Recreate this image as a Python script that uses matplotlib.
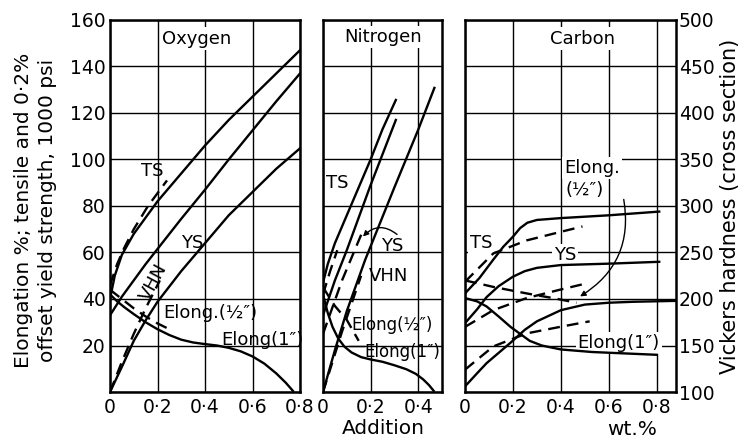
import matplotlib.pyplot as plt

plt.rcParams['font.family'] = ['DejaVu Sans']
plt.rcParams['font.size'] = 13

# Oxygen panel: x = wt.% addition, strength in 1000 psi, elongation in %, hardness in VHN
o_ts_x = [0, 0.02, 0.05, 0.1, 0.15, 0.2, 0.3, 0.4, 0.5, 0.6, 0.7, 0.8]
o_ts = [40, 50, 59, 68, 75, 82, 94, 106, 117, 127, 137, 147]
o_ts_d_x = [0, 0.03, 0.06, 0.1, 0.16, 0.24]
o_ts_d = [46, 55, 62, 70, 80, 91]
o_ys_x = [0, 0.05, 0.1, 0.15, 0.2, 0.3, 0.4, 0.5, 0.6, 0.7, 0.8]
o_ys = [33, 41, 48, 55, 61.5, 74.5, 87, 100, 112.5, 125, 137]
o_d_x = [0, 0.05, 0.1, 0.15, 0.21]
o_d = [0, 13, 25, 36, 48]
o_vhn_x = [0, 0.05, 0.1, 0.15, 0.2, 0.3, 0.4, 0.5, 0.6, 0.7, 0.8]
o_vhn = [100, 127, 155, 177, 197, 230, 260, 290, 315, 340, 362]
o_el1_x = [0, 0.03, 0.06, 0.1, 0.15, 0.2, 0.25, 0.3, 0.35, 0.4, 0.45,
           0.5, 0.55, 0.6, 0.65, 0.7, 0.74, 0.77]
o_el1 = [42, 39, 36.5, 33.5, 30, 27, 24.5, 22.5, 21.3, 20.6, 20,
         19, 17.5, 15.3, 12.2, 8, 4, 0.5]
o_elh_x = [0, 0.05, 0.1, 0.15, 0.2, 0.26]
o_elh = [44, 40, 36, 32.5, 29.5, 26.5]

# Nitrogen panel
n_ts_x = [0, 0.02, 0.05, 0.1, 0.15, 0.2, 0.25, 0.306]
n_ts = [47, 55, 64, 76, 88, 100, 113, 125.6]
n_ts_d_x = [0, 0.03, 0.06]
n_ts_d = [42, 52, 61]
n_ys_x = [0, 0.05, 0.1, 0.2, 0.306]
n_ys = [33, 48, 61, 89, 117]
n_ys_d_x = [0, 0.08, 0.17]
n_ys_d = [25, 48, 70]
n_vhn_x = [0, 0.05, 0.1, 0.177, 0.3, 0.4, 0.468]
n_vhn = [100, 145, 187, 242, 320, 382, 427]
n_vhn_d_x = [0, 0.08, 0.16]
n_vhn_d = [100, 165, 225]
n_el1_x = [0, 0.02, 0.04, 0.064, 0.09, 0.12, 0.16, 0.2, 0.25, 0.3,
           0.35, 0.39, 0.42, 0.445, 0.465]
n_el1 = [42, 34, 28, 23, 19.5, 17, 15, 14, 13, 11.5, 9.8, 7.8, 5.5, 3, 0.5]
n_elh_x = [0, 0.05, 0.1, 0.15]
n_elh = [45, 37, 31, 22]

# Carbon panel
c_ts_x = [0, 0.06, 0.117, 0.16, 0.2, 0.23, 0.26, 0.3, 0.4, 0.6, 0.81]
c_ts = [42.4, 49, 56.8, 62.5, 66.8, 70.5, 72.8, 74, 74.8, 76, 77.6]
c_ts_d_x = [0, 0.118, 0.257, 0.396, 0.49]
c_ts_d = [47.4, 59.6, 65.2, 68.8, 71.2]
c_elh_x = [0, 0.118, 0.257, 0.367, 0.465]
c_elh = [48, 45.2, 42.4, 40.4, 38.4]
c_ys_x = [0, 0.05, 0.09, 0.14, 0.2, 0.25, 0.3, 0.4, 0.6, 0.81]
c_ys = [29.6, 35.5, 40.8, 45.5, 49.6, 52, 53.4, 54.6, 55.2, 56]
c_ys_d_x = [0, 0.118, 0.257, 0.396, 0.51]
c_ys_d = [28, 35.2, 40.4, 44, 46.8]
c_el1_x = [0, 0.05, 0.09, 0.14, 0.19, 0.23, 0.27, 0.32, 0.4, 0.53, 0.8]
c_el1 = [40.4, 39, 36.8, 32.5, 28, 25, 22, 20, 18.3, 17.2, 16]
c_vhn_x = [0, 0.05, 0.09, 0.14, 0.19, 0.25, 0.3, 0.4, 0.5, 0.6, 0.7, 0.88]
c_vhn = [106, 120, 131, 142, 153, 167, 176, 188, 194, 196, 197, 198]
c_vhn_d_x = [0, 0.118, 0.257, 0.396, 0.52]
c_vhn_d = [124, 149, 163, 170, 176]

left_ticks = [0, 20, 40, 60, 80, 100, 120, 140, 160]
right_ticks = [100, 150, 200, 250, 300, 350, 400, 450, 500]

SOLID = dict(color='black', lw=1.7, zorder=4)
DASH = dict(color='black', lw=1.7, ls=(0, (5, 3)), zorder=4)
WHITE = dict(fc='white', ec='none', pad=1.5)


def tick_label(v):
    return '0' if v == 0 else f'{v:.1f}'.replace('.', '\u00b7')


def make_panel(fig, rect, xmax, xticks):
    ax = fig.add_axes(rect)
    ax.set_xlim(0, xmax)
    ax.set_ylim(0, 160)
    ax.set_xticks(xticks)
    ax.set_xticklabels([tick_label(v) for v in xticks], fontsize=13.5)
    ax.set_yticks(left_ticks)
    ax.set_yticklabels([])
    ax.grid(True, color='black', lw=1.0)
    ax.tick_params(length=0, pad=4)
    for s in ax.spines.values():
        s.set_linewidth(1.8)
    tw = ax.twinx()
    tw.set_ylim(100, 500)
    tw.set_yticks(right_ticks)
    tw.tick_params(length=0, pad=2)
    tw.set_yticklabels([])
    for s in tw.spines.values():
        s.set_visible(False)
    return ax, tw


fig = plt.figure(figsize=(7.54, 4.40), dpi=100)
bottom, height = 1 - 392 / 440, 372 / 440

# Oxygen
ax, tw = make_panel(fig, [110 / 754, bottom, 190 / 754, height], 0.8, [0, 0.2, 0.4, 0.6, 0.8])
ax.set_yticklabels([''] + [str(v) for v in left_ticks[1:]], fontsize=13.5)
ax.tick_params(axis='y', pad=3)
ax.plot(o_ts_x, o_ts, **SOLID)
ax.plot(o_ts_d_x, o_ts_d, **DASH)
ax.plot(o_ys_x, o_ys, **SOLID)
ax.plot(o_d_x, o_d, **DASH)
ax.plot(o_el1_x, o_el1, **SOLID)
ax.plot(o_elh_x, o_elh, **DASH)
tw.plot(o_vhn_x, o_vhn, **SOLID)
ax.text(0.366, 152, 'Oxygen', ha='center', va='center', bbox=WHITE)
ax.text(0.177, 95, 'TS', ha='center', va='center')
ax.text(0.3, 64, 'YS', ha='left', va='center')
ax.text(0.185, 47, 'VHN', ha='center', va='center', rotation=62)
ax.text(0.225, 34, 'Elong.(½″)', ha='left', va='center')
ax.text(0.47, 22.4, 'Elong(1″)', ha='left', va='center')

# Nitrogen
ax, tw = make_panel(fig, [323 / 754, bottom, 119 / 754, height], 0.5, [0, 0.2, 0.4])
ax.plot(n_ts_x, n_ts, **SOLID)
ax.plot(n_ts_d_x, n_ts_d, **DASH)
ax.plot(n_ys_x, n_ys, **SOLID)
ax.plot(n_ys_d_x, n_ys_d, **DASH)
ax.plot(n_el1_x, n_el1, **SOLID)
ax.plot(n_elh_x, n_elh, **DASH)
tw.plot(n_vhn_x, n_vhn, **SOLID)
tw.plot(n_vhn_d_x, n_vhn_d, **DASH)
ax.text(0.253, 152.7, 'Nitrogen', ha='center', va='center', bbox=WHITE)
ax.text(0.013, 90, 'TS', ha='left', va='center')
ax.text(0.244, 63, 'YS', ha='left', va='center')
ax.text(0.194, 50, 'VHN', ha='left', va='center')
ax.text(0.12, 29, 'Elong(½″)', ha='left', va='center', fontsize=12)
ax.text(0.175, 17, 'Elong(1″)', ha='left', va='center', fontsize=12)
ax.plot([0.11, 0.172], [19.8, 19.8], color='black', lw=1.0, zorder=4)
ax.annotate('', xy=(0.16, 66), xytext=(0.32, 67),
            arrowprops=dict(arrowstyle='-|>', color='black', lw=1.0,
                            connectionstyle='arc3,rad=0.5', mutation_scale=8))

# Carbon
ax, tw = make_panel(fig, [465 / 754, bottom, 211 / 754, height], 0.88, [0, 0.2, 0.4, 0.6, 0.8])
tw.set_yticklabels([str(v) for v in right_ticks], fontsize=13.5)
ax.plot(c_ts_x, c_ts, **SOLID)
ax.plot(c_ts_d_x, c_ts_d, **DASH)
ax.plot(c_elh_x, c_elh, **DASH)
ax.plot(c_ys_x, c_ys, **SOLID)
ax.plot(c_ys_d_x, c_ys_d, **DASH)
ax.plot(c_el1_x, c_el1, **SOLID)
tw.plot(c_vhn_x, c_vhn, **SOLID)
tw.plot(c_vhn_d_x, c_vhn_d, **DASH)
ax.text(0.49, 152, 'Carbon', ha='center', va='center', bbox=WHITE)
ax.text(0.02, 64, 'TS', ha='left', va='center', bbox=WHITE)
ax.text(0.417, 59, 'YS', ha='center', va='center', bbox=WHITE)
ax.text(0.53, 96.3, 'Elong.', ha='center', va='center', bbox=WHITE)
ax.text(0.5, 87, '(½″)', ha='center', va='center', bbox=WHITE)
ax.text(0.47, 21, 'Elong(1″)', ha='left', va='center', bbox=WHITE)
ax.annotate('', xy=(0.47, 40.5), xytext=(0.66, 84),
            arrowprops=dict(arrowstyle='-|>', color='black', lw=1.0,
                            connectionstyle='arc3,rad=-0.35', mutation_scale=8))
tw.set_ylabel('Vickers hardness (cross section)', fontsize=15, labelpad=4)

fig.text(383 / 754, 1 - 428 / 440, 'Addition', ha='center', va='center', fontsize=14.5)
fig.text(632 / 754, 1 - 429 / 440, 'wt.%', ha='center', va='center', fontsize=14.5)
fig.text(24 / 754, 1 - 210 / 440, 'Elongation %; tensile and 0\u00b72%',
         rotation=90, ha='center', va='center', fontsize=14.5)
fig.text(48 / 754, 1 - 210 / 440, 'offset yield strength, 1000 psi',
         rotation=90, ha='center', va='center', fontsize=14.5)

fig.savefig('out.png', dpi=100)
